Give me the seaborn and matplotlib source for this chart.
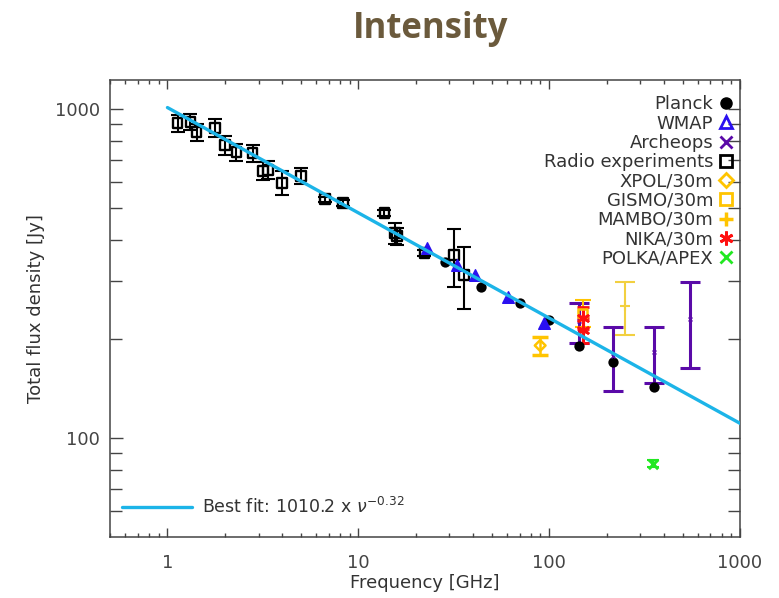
# %%
import matplotlib
matplotlib.use("Agg")
import matplotlib.pyplot as plt
import seaborn as sns
from matplotlib.lines import Line2D
from matplotlib.ticker import FixedLocator, FixedFormatter, NullFormatter, LogLocator

# %%
# flux densities [Jy] read off the figure, one block per experiment
planck_freq = [28.4, 44.1, 70.4, 100, 143, 217, 353]
planck_flux = [343, 288, 257, 229, 190, 170, 143]

wmap_freq = [22.8, 33, 40.7, 60.8, 93.5]
wmap_flux = [378, 336, 313, 268, 224]

archeops_freq = [143, 217, 353, 545]
archeops_flux = [226, 178, 182, 230]
archeops_err = [31, 39, 35, 67]

radio_freq = [1.13, 1.32, 1.42, 1.78, 2.01, 2.30, 2.79, 3.18, 3.38, 4.0, 5.03,
              6.72, 8.35, 13.7, 15.6, 16.0, 22.2, 31.8, 35.9]
radio_flux = [906, 913, 851, 876, 777, 740, 735, 648, 653, 596, 626,
              532, 518, 483, 420, 411, 365, 360, 313]
radio_err = [55, 50, 50, 55, 50, 45, 45, 40, 40, 50, 35,
             10, 10, 10, 30, 25, 8, 72, 67]

xpol_freq = [89.7]
xpol_flux = [191]
xpol_err = [12]

gismo_freq = [150]
gismo_flux = [240]
gismo_err = [22]

mambo_freq = [250]
mambo_flux = [252]
mambo_err = [46]

nika_freq = [150, 150]
nika_flux = [232, 213]
nika_err = [18, 18]

polka_freq = [350]
polka_flux = [83.5]
polka_err = [2]

# best fit from the figure label: S = 1010.2 x nu^-0.32
fit_amp = 1010.2
fit_index = -0.32
fit_freq = [1, 1000]
fit_flux = [fit_amp * f ** fit_index for f in fit_freq]

x_ticks = [1, 10, 100, 1000]
x_tick_labels = ['1', '10', '100', '1000']
y_ticks = [100, 1000]
y_tick_labels = ['100', '1000']
y_minor_ticks = [60, 70, 80, 90, 200, 300, 400, 500, 600, 700, 800, 900]

legend_labels = ['Planck', 'WMAP', 'Archeops', 'Radio experiments', 'XPOL/30m',
                 'GISMO/30m', 'MAMBO/30m', 'NIKA/30m', 'POLKA/APEX']

# %%
sns.set_style("ticks")
plt.rcParams['font.family'] = ['DejaVu Sans']
plt.rcParams['mathtext.fontset'] = 'dejavusans'
plt.rcParams['text.color'] = '#333333'
plt.rcParams['axes.labelcolor'] = '#333333'
plt.rcParams['xtick.color'] = '#444444'
plt.rcParams['ytick.color'] = '#444444'

c_black = 'black'
c_wmap = '#2A10F0'
c_arch = '#5A0AA8'
c_gold = '#FFC400'
c_mambo = '#F2D040'
c_nika = '#FF1010'
c_polka = '#22E822'
c_fit = '#1CB4E8'

fig = plt.figure(figsize=(7.79, 5.98), dpi=100)
ax = fig.add_axes([0.1412, 0.102, 0.8088, 0.7642])
ax.set_xscale('log')
ax.set_yscale('log')

# error bars
eb = dict(fmt='none', zorder=2)
ax.errorbar(radio_freq, radio_flux, yerr=radio_err, ecolor=c_black, elinewidth=1.5,
            capsize=5, capthick=1.5, **eb)
ax.errorbar(archeops_freq, archeops_flux, yerr=archeops_err, ecolor=c_arch, elinewidth=2.2,
            capsize=7, capthick=2.2, **eb)
ax.errorbar(xpol_freq, xpol_flux, yerr=xpol_err, ecolor=c_gold, elinewidth=1.8,
            capsize=6, capthick=2.5, **eb)
ax.errorbar(gismo_freq, gismo_flux, yerr=gismo_err, ecolor=c_gold, elinewidth=1.5,
            capsize=6, capthick=1.5, **eb)
ax.errorbar(mambo_freq, mambo_flux, yerr=mambo_err, ecolor=c_mambo, elinewidth=1.5,
            capsize=7, capthick=1.5, **eb)
ax.errorbar(nika_freq, nika_flux, yerr=nika_err, ecolor=c_nika, elinewidth=2.2,
            capsize=4, capthick=2, **eb)
ax.errorbar(polka_freq, polka_flux, yerr=polka_err, ecolor=c_polka, elinewidth=1.5,
            capsize=4, capthick=1.5, **eb)

# markers
sns.scatterplot(x=radio_freq, y=radio_flux, marker='s', s=50, facecolor='none',
                edgecolor=c_black, linewidth=1.7, ax=ax, zorder=3)
sns.scatterplot(x=planck_freq, y=planck_flux, marker='o', s=55, color=c_black,
                edgecolor=c_black, linewidth=0, ax=ax, zorder=3)
sns.scatterplot(x=wmap_freq, y=wmap_flux, marker='^', s=70, color=c_wmap,
                edgecolor=c_wmap, linewidth=1, ax=ax, zorder=3)
sns.scatterplot(x=archeops_freq, y=archeops_flux, marker='x', s=8, color=c_arch,
                linewidth=1, ax=ax, zorder=3)
sns.scatterplot(x=xpol_freq, y=xpol_flux, marker='D', s=30, facecolor='none',
                edgecolor=c_gold, linewidth=1.8, ax=ax, zorder=3)
sns.scatterplot(x=gismo_freq, y=gismo_flux, marker='s', s=40, facecolor='none',
                edgecolor=c_gold, linewidth=1.8, ax=ax, zorder=3)
sns.scatterplot(x=mambo_freq, y=mambo_flux, marker='+', s=60, color=c_mambo,
                linewidth=1.5, ax=ax, zorder=3)
sns.scatterplot(x=nika_freq, y=nika_flux, marker=(6, 2, 0), s=60, color=c_nika,
                linewidth=2, ax=ax, zorder=3)
sns.scatterplot(x=polka_freq, y=polka_flux, marker='x', s=45, color=c_polka,
                linewidth=2.2, ax=ax, zorder=3)

sns.lineplot(x=fit_freq, y=fit_flux, color=c_fit, linewidth=2.4, ax=ax, zorder=4)

ax.set_xlim(0.5, 1000)
ax.set_ylim(50, 1225)

ax.xaxis.set_major_locator(FixedLocator(x_ticks))
ax.xaxis.set_major_formatter(FixedFormatter(x_tick_labels))
ax.xaxis.set_minor_locator(LogLocator(base=10, subs=range(2, 10), numticks=20))
ax.xaxis.set_minor_formatter(NullFormatter())
ax.yaxis.set_major_locator(FixedLocator(y_ticks))
ax.yaxis.set_major_formatter(FixedFormatter(y_tick_labels))
ax.yaxis.set_minor_locator(FixedLocator(y_minor_ticks))
ax.yaxis.set_minor_formatter(NullFormatter())

ax.tick_params(which='both', direction='in', top=True, right=True, width=1.0, labelsize=13)
ax.tick_params(axis='x', which='major', length=6.5, pad=12)
ax.tick_params(axis='x', which='minor', length=3)
ax.tick_params(axis='y', which='major', length=9, pad=7)
ax.tick_params(axis='y', which='minor', length=8.5)
for sp in ax.spines.values():
    sp.set_color('#444444')
    sp.set_linewidth(1.1)

ax.set_xlabel('Frequency [GHz]', fontsize=13, labelpad=2)
ax.set_ylabel('Total flux density [Jy]', fontsize=13, labelpad=7)

# experiment legend, labels right aligned with markers on the right
handles = [
    Line2D([], [], ls='none', marker='o', ms=8, color=c_black),
    Line2D([], [], ls='none', marker='^', ms=9, mfc='none', mec=c_wmap, mew=2),
    Line2D([], [], ls='none', marker='x', ms=9, color=c_arch, mew=2),
    Line2D([], [], ls='none', marker='s', ms=9, mfc='none', mec=c_black, mew=2),
    Line2D([], [], ls='none', marker='D', ms=7, mfc='none', mec=c_gold, mew=2),
    Line2D([], [], ls='none', marker='s', ms=9, mfc='none', mec=c_gold, mew=2),
    Line2D([], [], ls='none', marker='+', ms=10, color=c_gold, mew=2.5),
    Line2D([], [], ls='none', marker=(6, 2, 0), ms=10, color=c_nika, mew=2),
    Line2D([], [], ls='none', marker='x', ms=9, color=c_polka, mew=2),
]
leg = ax.legend(handles, legend_labels, loc='upper right', bbox_to_anchor=(1.006, 0.99),
                markerfirst=False, frameon=False, fontsize=13, handlelength=0.8,
                handletextpad=0.3, labelspacing=0.07, borderaxespad=0.2)
ax.add_artist(leg)

fit_handle = Line2D([], [], color=c_fit, linewidth=2.4)
ax.legend([fit_handle], ['Best fit: 1010.2 x $\\nu^{-0.32}$'], loc='lower left',
          bbox_to_anchor=(0.0, 0.018), frameon=False, fontsize=12.5, handlelength=4.0,
          handletextpad=0.6, borderaxespad=0.3)

fig.text(0.553, 0.952, 'Intensity', ha='center', va='center', fontsize=25,
         fontweight='bold', family=['Open Sans', 'DejaVu Sans'], color='#6B5A3C')

fig.savefig('out.png', dpi=100)
